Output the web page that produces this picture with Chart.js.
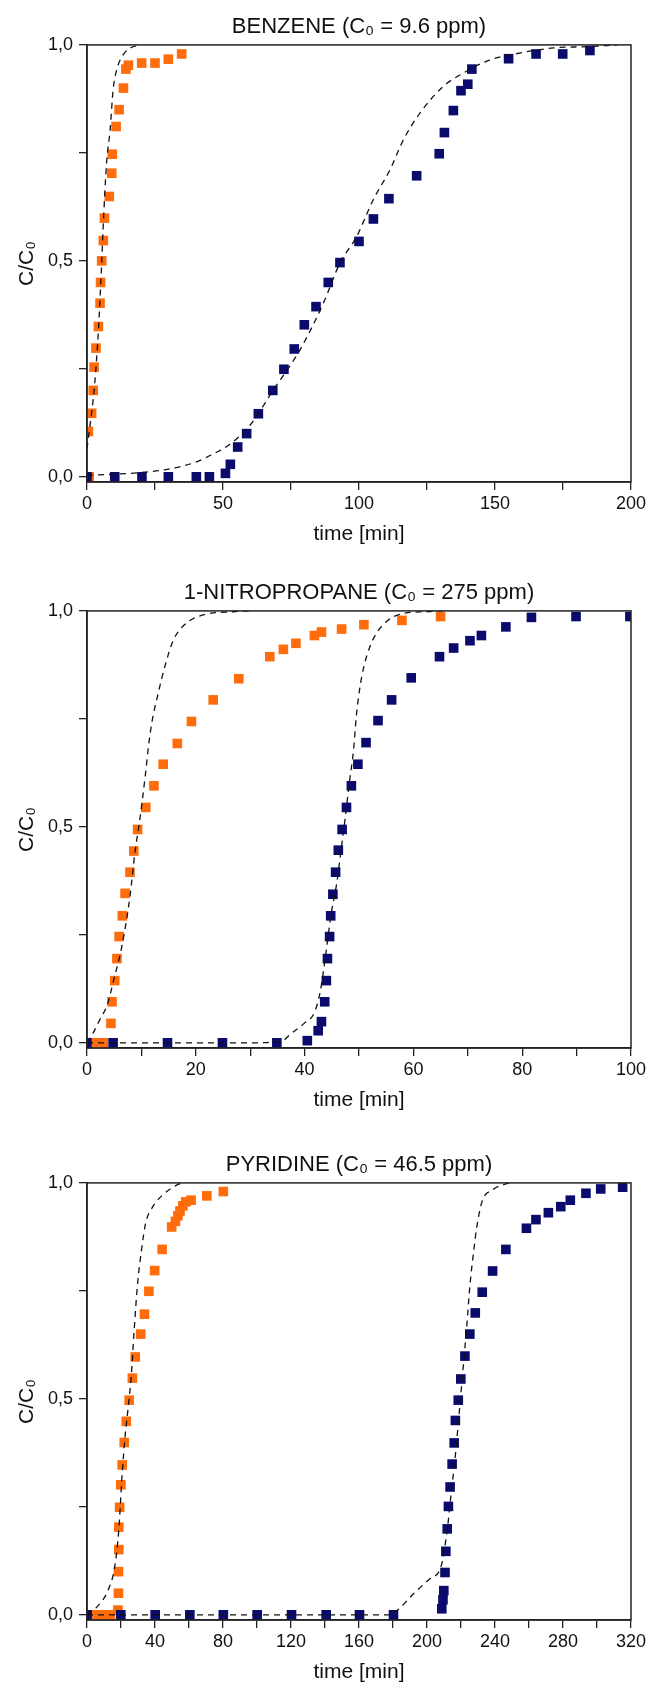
<!DOCTYPE html>
<html>
<head>
<meta charset="utf-8">
<script src="https://cdn.jsdelivr.net/npm/chart.js@4.4.1/dist/chart.umd.min.js"></script>
<style>
  html, body { margin: 0; padding: 0; background: #fff; overflow: hidden; }
  body { width: 649px; height: 1686px; position: relative; }
  canvas { position: absolute; left: 0; }
</style>
</head>
<body>
<canvas id="benzene" width="649" height="560" style="top:0px"></canvas>
<canvas id="nitro" width="649" height="560" style="top:566px"></canvas>
<canvas id="pyridine" width="649" height="560" style="top:1138px"></canvas>
<script>
// shared y axis
const yTicks = [0, 0.25, 0.5, 0.75, 1.0];
const yTickLabels = ['0,0', '', '0,5', '', '1,0'];

// --- benzene ---
const benzXTicks = [0, 25, 50, 75, 100, 125, 150, 175, 200];
const benzXLabels = ['0', '', '50', '', '100', '', '150', '', '200'];
const benzOrangeT = [0.8, 0.5, 1.7, 2.3, 2.6, 3.3, 4.2, 4.8, 5.0, 5.4, 6.0, 6.4, 8.2, 9.1, 9.3, 10.7, 11.8, 13.4, 14.3, 15.2, 20.1, 25.0, 29.9, 34.8];
const benzOrangeC = [0, 0.105, 0.147, 0.2, 0.254, 0.298, 0.348, 0.402, 0.45, 0.5, 0.547, 0.599, 0.649, 0.703, 0.747, 0.811, 0.85, 0.9, 0.944, 0.953, 0.958, 0.958, 0.967, 0.979];
const benzNavyT = [0, 10.2, 20.2, 29.9, 40.2, 45, 50.9, 52.7, 55.4, 58.7, 63, 68.3, 72.4, 76.2, 79.9, 84.2, 88.7, 93, 100, 105.3, 111, 121.2, 129.5, 131.4, 134.7, 137.5, 140, 141.5, 155, 165.1, 174.9, 184.9];
const benzNavyC = [0, 0, 0, 0, 0, 0, 0.008, 0.029, 0.069, 0.1, 0.146, 0.2, 0.249, 0.296, 0.352, 0.394, 0.45, 0.496, 0.545, 0.597, 0.644, 0.697, 0.748, 0.797, 0.848, 0.894, 0.909, 0.944, 0.968, 0.979, 0.979, 0.987];
const benzFitOT = [0, 0.5, 1.7, 2.9, 4.2, 5.4, 5.9, 7.2, 8.5, 9.6, 10.9, 13.3, 16, 19.5];
const benzFitOC = [0.065, 0.09, 0.148, 0.22, 0.34, 0.495, 0.572, 0.727, 0.803, 0.896, 0.942, 0.977, 0.993, 1.0];
const benzFitNT = [0, 10, 20, 30, 40, 47, 51.4, 60, 68.5, 78.3, 86.9, 93, 99.1, 105.2, 111.4, 116.3, 122.4, 131, 138.4, 148, 159, 171.4, 183.8, 195];
const benzFitNC = [0.004, 0.006, 0.01, 0.018, 0.034, 0.055, 0.07, 0.12, 0.201, 0.294, 0.402, 0.495, 0.556, 0.641, 0.711, 0.78, 0.842, 0.904, 0.935, 0.965, 0.981, 0.993, 0.996, 1.0];

// --- 1-nitropropane ---
const nitroXTicks = [0, 10, 20, 30, 40, 50, 60, 70, 80, 90, 100];
const nitroXLabels = ['0', '', '20', '', '40', '', '60', '', '80', '', '100'];
const nitroOrangeT = [1.7, 3, 4.4, 4.6, 5.1, 5.5, 5.9, 6.5, 7, 7.9, 8.6, 9.3, 10.8, 12.3, 14, 16.6, 19.2, 23.2, 27.9, 33.6, 36.1, 38.4, 41.8, 43.1, 46.8, 50.9, 57.9, 65];
const nitroOrangeC = [0, 0, 0.045, 0.095, 0.144, 0.195, 0.246, 0.294, 0.346, 0.395, 0.444, 0.494, 0.545, 0.595, 0.645, 0.693, 0.744, 0.794, 0.843, 0.894, 0.911, 0.925, 0.943, 0.951, 0.958, 0.968, 0.978, 0.987];
const nitroNavyT = [0, 4.8, 14.8, 24.9, 34.9, 40.5, 42.5, 43.1, 43.7, 44, 44.2, 44.6, 44.8, 45.2, 45.7, 46.2, 46.9, 47.7, 48.6, 49.8, 51.3, 53.5, 56, 59.6, 64.8, 67.4, 70.4, 72.5, 77, 81.7, 89.9, 99.8];
const nitroNavyC = [0, 0, 0, 0, 0, 0.005, 0.028, 0.049, 0.095, 0.144, 0.195, 0.246, 0.294, 0.344, 0.395, 0.446, 0.494, 0.545, 0.595, 0.645, 0.695, 0.746, 0.794, 0.845, 0.894, 0.914, 0.931, 0.943, 0.963, 0.985, 0.987, 0.987];
const nitroFitOT = [0, 1, 2.3, 3.8, 4.9, 6.4, 7.9, 8.8, 9.7, 10.7, 11.3, 11.9, 13.1, 14.3, 15.9, 18.3, 21.4, 26.9, 30];
const nitroFitOC = [0, 0.02, 0.052, 0.091, 0.145, 0.223, 0.339, 0.44, 0.516, 0.617, 0.686, 0.74, 0.81, 0.871, 0.933, 0.972, 0.991, 0.998, 1.0];
const nitroFitNT = [0, 10, 20, 30, 36, 37.2, 39.9, 41.8, 42.9, 44, 44.8, 45.9, 46.7, 47.5, 48.2, 49, 49.5, 50.1, 50.9, 52, 53.2, 55.4, 58.5, 62.3, 65.3];
const nitroFitNC = [0, 0, 0, 0, 0.005, 0.018, 0.045, 0.07, 0.12, 0.215, 0.292, 0.369, 0.446, 0.524, 0.6, 0.678, 0.755, 0.817, 0.871, 0.917, 0.948, 0.979, 0.995, 0.998, 1.0];

// --- pyridine ---
const pyrXTicks = [0, 20, 40, 60, 80, 100, 120, 140, 160, 180, 200, 220, 240, 260, 280, 300, 320];
const pyrXLabels = ['0', '', '40', '', '80', '', '120', '', '160', '', '200', '', '240', '', '280', '', '320'];
const pyrOrangeT = [4, 9, 13.8, 18.2, 18.5, 18.5, 18.7, 18.7, 19.2, 19.9, 20.7, 21.9, 23.1, 24.8, 26.7, 28.4, 31.6, 33.8, 36.4, 39.8, 44.2, 49.8, 52, 53.5, 54.7, 56.4, 58.1, 61.2, 70.5, 80.2];
const pyrOrangeC = [0, 0, 0, 0.011, 0.05, 0.1, 0.151, 0.203, 0.249, 0.301, 0.347, 0.399, 0.448, 0.497, 0.548, 0.597, 0.65, 0.696, 0.749, 0.797, 0.846, 0.898, 0.911, 0.924, 0.935, 0.947, 0.956, 0.96, 0.97, 0.98];
const pyrNavyT = [0, 19.9, 40.1, 60.5, 80.2, 100.1, 120.3, 140.7, 160.3, 180.3, 208.7, 209.4, 209.9, 210.6, 211.1, 211.9, 212.6, 213.6, 214.8, 216, 216.7, 218.4, 219.9, 222.3, 225.2, 228.4, 232.5, 238.6, 246.4, 258.5, 264.1, 271.4, 278.7, 284.3, 293.5, 302.2, 315.1];
const pyrNavyC = [0, 0, 0, 0, 0, 0, 0, 0, 0, 0, 0.014, 0.035, 0.056, 0.098, 0.147, 0.199, 0.251, 0.296, 0.349, 0.398, 0.45, 0.497, 0.546, 0.599, 0.65, 0.699, 0.747, 0.796, 0.846, 0.895, 0.915, 0.931, 0.945, 0.96, 0.976, 0.986, 0.99];
const pyrFitOT = [0, 5.3, 12.6, 16.3, 18.7, 20.7, 22.4, 24.3, 26, 27.7, 29.6, 32.1, 34.5, 38.1, 44.2, 53.9, 56.4];
const pyrFitOC = [0, 0.016, 0.059, 0.111, 0.197, 0.327, 0.413, 0.483, 0.552, 0.656, 0.76, 0.846, 0.907, 0.941, 0.971, 0.997, 1.0];
const pyrFitNT = [0, 40, 80, 120, 160, 178, 182.7, 192.4, 202.1, 208.2, 211.9, 214.3, 216.7, 219.1, 221.6, 223.5, 225.2, 227.6, 229.3, 232.5, 238.6, 245.9, 250.7];
const pyrFitNC = [0, 0, 0, 0, 0, 0, 0.011, 0.05, 0.085, 0.111, 0.197, 0.284, 0.37, 0.474, 0.587, 0.673, 0.76, 0.846, 0.898, 0.958, 0.984, 0.997, 1.0];

const ORANGE = '#ff6c0c';
const NAVY = '#0b0b6e';
const AXIS = '#222';
Chart.defaults.font.family = '"Liberation Sans", Arial, sans-serif';
Chart.defaults.color = '#111';

const pts = (xs, ys) => xs.map((x, i) => ({ x: x, y: ys[i] }));

// box round the plot, drawn over the curves
const framePlugin = {
    id: 'frame',
    afterDatasetsDraw(chart) {
        const { ctx, chartArea: a } = chart;
        ctx.save();
        ctx.strokeStyle = AXIS;
        ctx.lineWidth = 1.5;
        ctx.strokeRect(a.left, a.top, a.right - a.left, a.bottom - a.top);
        ctx.restore();
    }
};

function fitLine(xs, ys) {
    return {
        data: pts(xs, ys), showLine: true, borderColor: '#111', borderWidth: 1.3,
        borderDash: [6, 5], pointRadius: 0, cubicInterpolationMode: 'monotone', order: 0
    };
}

function marks(xs, ys, color, order) {
    return {
        data: pts(xs, ys), showLine: false, pointStyle: 'rect', pointRadius: 6.8,
        backgroundColor: color, borderColor: color, borderWidth: 0, order: order
    };
}

function makeChart(id, title, xMax, xTicks, xLabels, sets) {
    new Chart(document.getElementById(id), {
        type: 'scatter',
        data: {
            datasets: [
                fitLine(sets.fitOT, sets.fitOC),
                fitLine(sets.fitNT, sets.fitNC),
                marks(sets.navyT, sets.navyC, NAVY, 1),
                marks(sets.orangeT, sets.orangeC, ORANGE, 2)
            ]
        },
        options: {
            responsive: false,
            animation: false,
            events: [],
            layout: { padding: { top: 0, right: 18, bottom: 0, left: 0 } },
            plugins: {
                legend: { display: false },
                tooltip: { enabled: false },
                title: {
                    display: true, text: title, fullSize: false, color: '#111',
                    font: { size: 22, weight: 'normal' }, padding: { top: 13.5, bottom: 5 }
                }
            },
            scales: {
                x: {
                    type: 'linear', min: 0, max: xMax,
                    afterBuildTicks: s => { s.ticks = xTicks.map(v => ({ value: v })); },
                    afterFit: s => { s.height = 78; },
                    ticks: { callback: (v, i) => xLabels[i], font: { size: 18 }, color: '#111', padding: 3, maxRotation: 0, autoSkip: false },
                    grid: { drawOnChartArea: false, drawTicks: true, tickLength: 8, color: AXIS, lineWidth: 1.3 },
                    border: { display: true, color: AXIS, width: 1.5 },
                    title: { display: true, text: 'time [min]', font: { size: 21 }, color: '#111', padding: { top: 0, bottom: 13 } }
                },
                y: {
                    type: 'linear', min: -0.012, max: 1.0,
                    afterBuildTicks: s => { s.ticks = yTicks.map(v => ({ value: v })); },
                    afterFit: s => { s.width = 87; },
                    ticks: { callback: (v, i) => yTickLabels[i], font: { size: 18 }, color: '#111', padding: 6, autoSkip: false },
                    grid: { drawOnChartArea: false, drawTicks: true, tickLength: 8, color: AXIS, lineWidth: 1.3 },
                    border: { display: true, color: AXIS, width: 1.5 },
                    title: { display: true, text: 'C/C₀', font: { size: 21 }, color: '#111', padding: { top: 15, bottom: 0 } }
                }
            }
        },
        plugins: [framePlugin]
    });
}

makeChart('benzene', 'BENZENE (C₀ = 9.6 ppm)', 200, benzXTicks, benzXLabels, {
    orangeT: benzOrangeT, orangeC: benzOrangeC, navyT: benzNavyT, navyC: benzNavyC,
    fitOT: benzFitOT, fitOC: benzFitOC, fitNT: benzFitNT, fitNC: benzFitNC
});
makeChart('nitro', '1-NITROPROPANE (C₀ = 275 ppm)', 100, nitroXTicks, nitroXLabels, {
    orangeT: nitroOrangeT, orangeC: nitroOrangeC, navyT: nitroNavyT, navyC: nitroNavyC,
    fitOT: nitroFitOT, fitOC: nitroFitOC, fitNT: nitroFitNT, fitNC: nitroFitNC
});
makeChart('pyridine', 'PYRIDINE (C₀ = 46.5 ppm)', 320, pyrXTicks, pyrXLabels, {
    orangeT: pyrOrangeT, orangeC: pyrOrangeC, navyT: pyrNavyT, navyC: pyrNavyC,
    fitOT: pyrFitOT, fitOC: pyrFitOC, fitNT: pyrFitNT, fitNC: pyrFitNC
});
</script>
</body>
</html>
